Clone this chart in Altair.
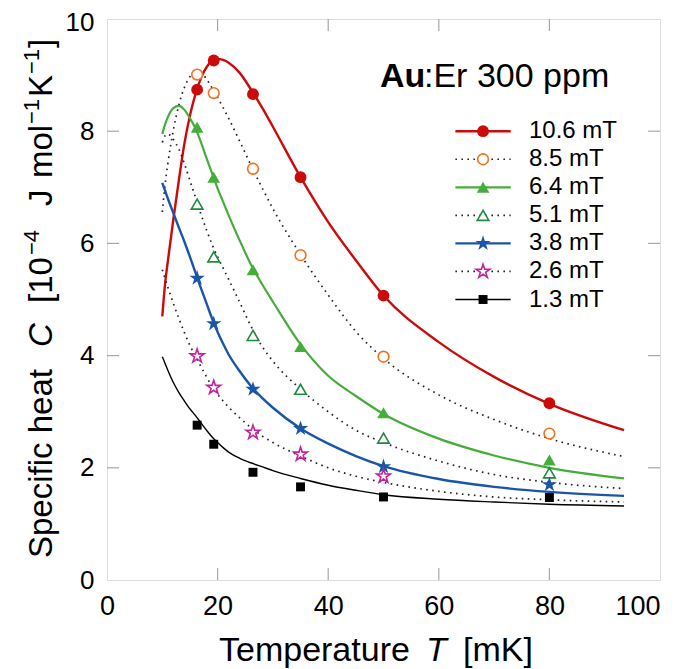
import altair as alt
import pandas as pd

# ---------------- data ----------------
T_pts = [16.3, 19.3, 26.4, 35.0, 50.0, 80.0]
C_106 = [8.74, 9.26, 8.66, 7.18, 5.07, 3.15]
C_85 = [9.01, 8.68, 7.33, 5.79, 3.98, 2.61]
C_64 = [8.07, 7.18, 5.53, 4.16, 2.98, 2.14]
C_51 = [6.70, 5.76, 4.36, 3.40, 2.53, 1.91]
C_38 = [5.38, 4.57, 3.40, 2.70, 2.02, 1.70]
C_26 = [3.99, 3.43, 2.63, 2.24, 1.85, None]
C_13 = [2.76, 2.42, 1.92, 1.66, 1.48, 1.47]

T_fit = [10, 10.5, 11, 12, 13, 14, 15, 16, 17, 18, 19, 20, 21, 22, 24, 26, 28, 30,
         35, 40, 45, 50, 60, 70, 80, 93.5]
F_106 = [4.70, 5.28, 5.68, 6.43, 7.13, 7.78, 8.28, 8.66, 8.95, 9.14, 9.25, 9.29, 9.27, 9.22,
         9.04, 8.75, 8.43, 8.08, 7.18, 6.38, 5.70, 5.07, 4.24, 3.62, 3.14, 2.67]
F_85 = [6.56, 7.05, 7.42, 8.02, 8.47, 8.78, 8.97, 9.04, 9.03, 8.93, 8.77, 8.60, 8.42, 8.23,
        7.82, 7.40, 7.00, 6.62, 5.80, 5.08, 4.43, 3.95, 3.30, 2.86, 2.52, 2.20]
F_64 = [7.95, 8.12, 8.25, 8.41, 8.45, 8.38, 8.23, 8.05, 7.80, 7.52, 7.25, 6.98, 6.74, 6.50,
        6.05, 5.63, 5.28, 4.96, 4.20, 3.64, 3.28, 2.96, 2.52, 2.22, 2.00, 1.81]
F_51 = [7.80, 7.92, 7.95, 7.85, 7.68, 7.42, 7.12, 6.82, 6.52, 6.24, 5.98, 5.76, 5.56, 5.36,
        4.95, 4.53, 4.17, 3.90, 3.40, 3.00, 2.67, 2.45, 2.12, 1.88, 1.74, 1.63]
F_38 = [7.08, 6.94, 6.80, 6.54, 6.28, 6.03, 5.76, 5.48, 5.20, 4.93, 4.66, 4.42, 4.21, 4.02,
        3.72, 3.46, 3.25, 3.07, 2.70, 2.43, 2.21, 2.03, 1.80, 1.66, 1.57, 1.50]
F_26 = [5.53, 5.37, 5.22, 4.93, 4.66, 4.41, 4.18, 3.99, 3.80, 3.62, 3.45, 3.31, 3.19, 3.08,
        2.89, 2.72, 2.57, 2.45, 2.21, 2.00, 1.85, 1.74, 1.58, 1.48, 1.43, 1.39]
F_13 = [3.98, 3.86, 3.74, 3.52, 3.34, 3.19, 3.05, 2.93, 2.80, 2.67, 2.55, 2.45, 2.36, 2.28,
        2.17, 2.09, 2.02, 1.95, 1.81, 1.69, 1.60, 1.52, 1.44, 1.39, 1.35, 1.32]

labels = ["10.6 mT", "8.5 mT", "6.4 mT", "5.1 mT", "3.8 mT", "2.6 mT", "1.3 mT"]
x_ticks = [0, 20, 40, 60, 80, 100]
y_ticks = [0, 2, 4, 6, 8, 10]

pts_all = [C_106, C_85, C_64, C_51, C_38, C_26, C_13]
fit_all = [F_106, F_85, F_64, F_51, F_38, F_26, F_13]

# ---------------- styles ----------------
STAR = ("M0,-1 L0.2245,-0.309 L0.9511,-0.309 L0.3633,0.118 L0.5878,0.809 L0,0.382 "
        "L-0.5878,0.809 L-0.3633,0.118 L-0.9511,-0.309 L-0.2245,-0.309 Z")
DOT = [1.6, 4.4]
styles = [
    dict(lc="#cc0a0a", lw=2.4, dash=None, shape="circle", mc="#cc0a0a", filled=True, size=140),
    dict(lc="#222222", lw=1.7, dash=DOT, shape="circle", mc="#f5701e", filled=False, size=115),
    dict(lc="#45ad3a", lw=2.2, dash=None, shape="triangle-up", mc="#45ad3a", filled=True, size=160),
    dict(lc="#222222", lw=1.7, dash=DOT, shape="triangle-up", mc="#1f8a3f", filled=False, size=135),
    dict(lc="#1b55a8", lw=2.4, dash=None, shape=STAR, mc="#1b55a8", filled=True, size=260),
    dict(lc="#222222", lw=1.7, dash=DOT, shape=STAR, mc="#c4229a", filled=False, size=210),
    dict(lc="#000000", lw=1.4, dash=None, shape="square", mc="#000000", filled=True, size=80),
]

FONT = "Liberation Sans"
W, H = 553, 561

xscale = alt.Scale(domain=[0, 100], nice=False, zero=False)
yscale = alt.Scale(domain=[0, 10], nice=False, zero=False)
xaxis = alt.Axis(values=x_ticks, title="", grid=False, domain=False, ticks=False,
                 labelFontSize=27, labelFont=FONT, labelColor="black", labelPadding=13,
                 labelFlush=False, labelOverlap=False, format="d",
                 labelAlign={"condition": {"test": "datum.value >= 100", "value": "right"},
                             "value": "center"})
yaxis = alt.Axis(values=y_ticks, title="", grid=False, domain=False, ticks=False,
                 labelFontSize=26, labelFont=FONT, labelColor="black", labelPadding=13,
                 labelFlush=False, labelOverlap=False, format="d",
                 labelOffset={"condition": {"test": "datum.value >= 10", "value": 3},
                              "value": 0})


def X(f="T"):
    return alt.X(f"{f}:Q", scale=xscale, axis=xaxis)


def Y(f="C"):
    return alt.Y(f"{f}:Q", scale=yscale, axis=yaxis)


layers = []

# inward ticks on all four sides
tx = pd.DataFrame({"T": [v for v in x_ticks if 0 < v < 100]})
ty = pd.DataFrame({"C": [v for v in y_ticks if 0 < v < 10]})
tick_col = "#a8a8a8"
layers.append(alt.Chart(tx).mark_rule(color=tick_col, strokeWidth=1.2).encode(
    x=X(), y=alt.value(H), y2=alt.value(H - 12)))
layers.append(alt.Chart(tx).mark_rule(color=tick_col, strokeWidth=1.2).encode(
    x=X(), y=alt.value(0), y2=alt.value(12)))
layers.append(alt.Chart(ty).mark_rule(color=tick_col, strokeWidth=1.2).encode(
    y=Y(), x=alt.value(0), x2=alt.value(12)))
layers.append(alt.Chart(ty).mark_rule(color=tick_col, strokeWidth=1.2).encode(
    y=Y(), x=alt.value(W), x2=alt.value(W - 12)))

# fitted curves
for lab, fit, st in zip(labels, fit_all, styles):
    df = pd.DataFrame({"T": T_fit, "C": fit})
    kw = dict(color=st["lc"], strokeWidth=st["lw"], interpolate="monotone")
    if st["dash"]:
        kw["strokeDash"] = st["dash"]
    layers.append(alt.Chart(df).mark_line(**kw).encode(x=X(), y=Y()))


def point_kw(st):
    kw = dict(shape=st["shape"], size=st["size"], opacity=1)
    if st["filled"]:
        kw.update(filled=True, color=st["mc"], strokeWidth=0)
    else:
        kw.update(filled=False, color=st["mc"], fill="white", fillOpacity=1, strokeWidth=1.6)
    return kw


# data points
for lab, pts, st in zip(labels, pts_all, styles):
    rows = [(t, c) for t, c in zip(T_pts, pts) if c is not None]
    df = pd.DataFrame(rows, columns=["T", "C"])
    layers.append(alt.Chart(df).mark_point(**point_kw(st)).encode(x=X(), y=Y()))

# legend (drawn in data coordinates)
LEG_Y0, LEG_DY = 8.0, 0.5
LEG_X1, LEG_X2, LEG_XM, LEG_XT = 63.0, 73.0, 68.0, 76.3
one = pd.DataFrame({"k": [0]})
for i, (lab, st) in enumerate(zip(labels, styles)):
    yv = LEG_Y0 - i * LEG_DY
    kw = dict(color=st["lc"], strokeWidth=st["lw"])
    if st["dash"]:
        kw["strokeDash"] = st["dash"]
    layers.append(alt.Chart(one).mark_rule(**kw).encode(
        x=alt.datum(LEG_X1, scale=xscale), x2=alt.datum(LEG_X2), y=alt.datum(yv, scale=yscale)))
    layers.append(alt.Chart(one).mark_point(**point_kw(st)).encode(
        x=alt.datum(LEG_XM, scale=xscale), y=alt.datum(yv, scale=yscale)))
    layers.append(alt.Chart(one).mark_text(align="left", baseline="middle", fontSize=24,
                                           font=FONT, color="black").encode(
        x=alt.datum(LEG_XT, scale=xscale), y=alt.datum(yv, scale=yscale), text=alt.value(lab)))


def txt(s, x, y, size, align="left", style="normal", weight="normal", angle=0):
    kw = dict(align=align, baseline="alphabetic", fontSize=size, font=FONT,
              fontStyle=style, fontWeight=weight, color="black")
    if angle:
        kw["angle"] = angle
    return alt.Chart(one).mark_text(**kw).encode(
        x=alt.value(x), y=alt.value(y), text=alt.value(s))


# annotation  "Au:Er 300 ppm"
layers.append(txt("Au", 273, 68, 34, weight="bold"))
layers.append(txt(":Er 300 ppm", 317, 68, 34))

# x title
layers.append(txt("Temperature", 112, 642, 34))
layers.append(txt("T", 319, 642, 34, style="italic"))
layers.append(txt("[mK]", 356, 642, 34))

# y title (rotated, superscripts as raised smaller text)
YB, YS = -55, -68
layers.append(txt("Specific heat", YB, 539, 33, angle=270))
layers.append(txt("C", YB, 316, 33, align="center", style="italic", angle=270))
layers.append(txt("[10", YB, 284, 33, angle=270))
layers.append(txt("\u22124", YS, 236, 22, angle=270))
layers.append(txt("J", YB, 187, 33, angle=270))
layers.append(txt("mol", YB, 159, 33, angle=270))
layers.append(txt("\u22121", YS, 105, 22, angle=270))
layers.append(txt("K", YB, 78, 33, angle=270))
layers.append(txt("\u22121", YS, 55, 22, angle=270))
layers.append(txt("]", YB, 29, 33, angle=270))

chart = alt.layer(*layers).properties(
    width=W, height=H,
    padding={"left": 99, "top": 11, "right": 8, "bottom": 88},
    autosize="none",
).configure_view(stroke="black", strokeWidth=2.2).configure(background="white")

chart.save("out.html", embed_options={"renderer": "svg", "actions": False})
